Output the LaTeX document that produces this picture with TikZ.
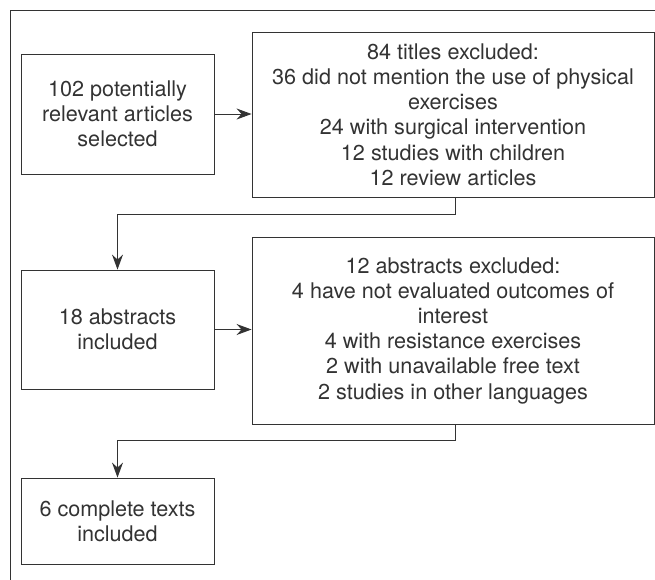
\documentclass[tikz,border=0pt]{standalone}
\usepackage{fontspec}
\setmainfont{TeX Gyre Heros}
\usetikzlibrary{arrows.meta}
\definecolor{ink}{HTML}{333333}
\begin{document}
\begin{tikzpicture}[x=1pt,y=-1pt,
  box/.style={draw=ink, line width=0.9pt, text=ink, align=center, inner sep=0pt,
    font=\fontsize{21.6}{25.2}\selectfont},
  conn/.style={draw=ink, line width=0.9pt, -{Stealth[length=15pt,width=11pt,inset=5pt]}},
  frameline/.style={draw=ink, line width=0.9pt}]
\useasboundingbox (0,0) rectangle (655,579);
\draw[frameline] (10,580) -- (10,10) -- (656,10);
\node[box, minimum width=193pt, minimum height=120pt] (A) at (117.5,114) {102 potentially\\relevant articles\\selected};
\node[box, minimum width=402pt, minimum height=165pt] (B) at (453,114.5) {84 titles excluded:\\36 did not mention the use of physical\\exercises\\24 with surgical intervention\\12 studies with children\\12 review articles};
\node[box, minimum width=193pt, minimum height=119pt] (C) at (117.5,329.5) {18 abstracts\\included};
\node[box, minimum width=402pt, minimum height=187pt] (D) at (453,330.5) {12 abstracts excluded:\\4 have not evaluated outcomes of\\interest\\4 with resistance exercises\\2 with unavailable free text\\2 studies in other languages};
\node[box, minimum width=193pt, minimum height=86pt] (E) at (117.5,521) {6 complete texts\\included};
\draw[conn] (A.east) -- (A.east -| B.west);
\draw[conn] ([xshift=2pt]B.south) -- ++(0,16.5) -| (C.north);
\draw[conn] (C.east) -- (C.east -| D.west);
\draw[conn] ([xshift=2pt]D.south) -- ++(0,16) -| (E.north);
\end{tikzpicture}
\end{document}
